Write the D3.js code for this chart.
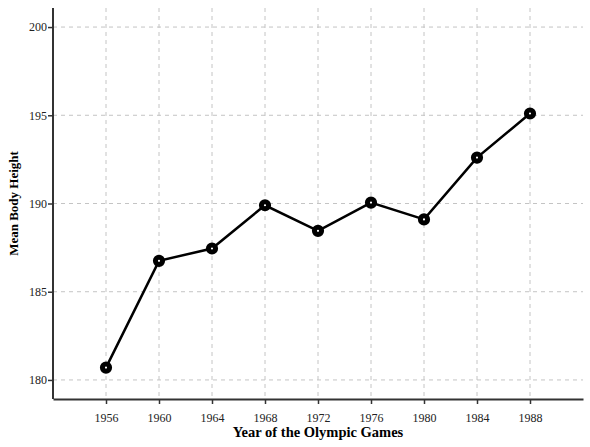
<!DOCTYPE html>
<html><head><meta charset="utf-8">
<script src="https://cdn.jsdelivr.net/npm/d3@7"></script>
<style>body{margin:0;background:#fff}</style>
</head><body>
<svg id="c" width="590" height="447"></svg>
<script>
const years = [1956,1960,1964,1968,1972,1976,1980,1984,1988];
const heights = [180.7,186.75,187.45,189.9,188.45,190.05,189.1,192.6,195.1];
const yTicks = [180,185,190,195,200];
const xLabel = "Year of the Olympic Games";
const yLabel = "Mean Body Height";

const svg = d3.select("#c");
const L=53, R=583, T=8, B=399;
const x = d3.scaleLinear().domain([1952,1992]).range([L,R]);
const y = d3.scaleLinear().domain([178.92,201.08]).range([B,T]);
const font = "Liberation Serif, DejaVu Serif, serif";

// grid
svg.append("g").selectAll("line").data(yTicks).join("line")
  .attr("x1",L).attr("x2",R).attr("y1",d=>y(d)).attr("y2",d=>y(d))
  .attr("stroke","#c4c4c4").attr("stroke-dasharray","4,4").attr("stroke-width",1);
svg.append("g").selectAll("line").data(years).join("line")
  .attr("x1",d=>x(d)).attr("x2",d=>x(d)).attr("y1",T).attr("y2",B)
  .attr("stroke","#c4c4c4").attr("stroke-dasharray","4,4").attr("stroke-width",1);

// axes
const xa = svg.append("g").attr("transform",`translate(0,${B})`)
  .call(d3.axisBottom(x).tickValues(years).tickFormat(d3.format("d")).tickSize(5).tickSizeOuter(0));
const ya = svg.append("g").attr("transform",`translate(${L},0)`)
  .call(d3.axisLeft(y).tickValues(yTicks).tickSize(5).tickSizeOuter(0));
[xa,ya].forEach(a=>{
  a.select(".domain").attr("stroke","#333").attr("stroke-width",2);
  a.selectAll(".tick line").attr("stroke","#333").attr("stroke-width",1.5);
  a.selectAll("text").attr("font-family",font).attr("font-size",12).attr("fill","#222");
});
ya.select(".domain").attr("d",`M0,${T}V${B}`);
ya.selectAll("text").attr("x",-6);
xa.selectAll("text").attr("dy","1.25em");

// line
svg.append("path").datum(years.map((d,i)=>[d,heights[i]]))
  .attr("d",d3.line().x(d=>x(d[0])).y(d=>y(d[1])))
  .attr("fill","none").attr("stroke","#000").attr("stroke-width",2.5);
svg.append("g").selectAll("circle").data(years.map((d,i)=>[d,heights[i]])).join("circle")
  .attr("cx",d=>x(d[0])).attr("cy",d=>y(d[1])).attr("r",3.6)
  .attr("fill","#fff").attr("stroke","#000").attr("stroke-width",5);

// titles
svg.append("text").attr("x",(L+R)/2).attr("y",437).attr("text-anchor","middle")
  .attr("font-family",font).attr("font-weight","bold").attr("font-size",14.5)
  .text(xLabel);
svg.append("text").attr("transform",`translate(18,${(T+B)/2}) rotate(-90)`).attr("text-anchor","middle")
  .attr("font-family",font).attr("font-weight","bold").attr("font-size",13)
  .text(yLabel);
</script>
</body></html>
